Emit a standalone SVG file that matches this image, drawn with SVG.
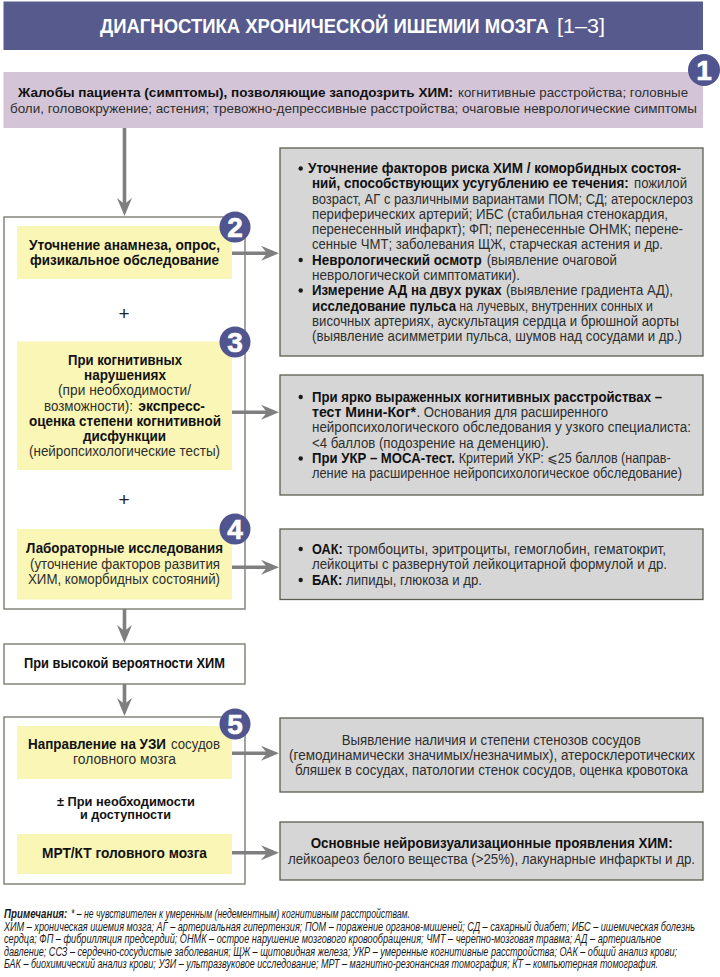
<svg xmlns="http://www.w3.org/2000/svg" width="720" height="977" viewBox="0 0 720 977">
<style>
text{font-family:"Liberation Sans","DejaVu Sans",Arial,sans-serif;font-size:14px;fill:#2e2e2e}
.b{font-weight:700;fill:#111}
.c{text-anchor:middle}
.grey{fill:#d6d6d6;stroke:#5c5c52;stroke-width:1.3}
.yel{fill:#faf6b6}
.frame{fill:#fff;stroke:#7d7d74;stroke-width:1.4}
.badge{fill:#51558f}
.num{font-size:28px;font-weight:700;fill:#fff;stroke:#fff;stroke-width:.6;text-anchor:middle}
.n{font-size:12px;font-style:italic;fill:#1a1a1a}
.nb{font-weight:700}
.conn{fill:none;stroke:#7f7f7f;stroke-width:3.6;marker-end:url(#arr)}
.dot{fill:#1a1a1a}
.s13{font-size:13px}
.s135{font-size:13.5px}
</style>
<defs>
<marker id="arr" markerUnits="userSpaceOnUse" markerWidth="20" markerHeight="18" viewBox="0 -9 20 18" refX="6" refY="0" orient="auto">
<polygon points="0,-7.5 18,0 0,7.5 6,0" fill="#7f7f7f"/>
</marker>
</defs>

<g id="title">
<rect x="3.5" y="1.5" width="699.5" height="48.5" fill="#565a8c"/>
<text transform="translate(100 33) scale(.85 1)" textLength="528" lengthAdjust="spacingAndGlyphs" style="font-size:19.5px;font-weight:700;fill:#fff">ДИАГНОСТИКА ХРОНИЧЕСКОЙ ИШЕМИИ МОЗГА</text>
<text x="557" y="33" textLength="48" lengthAdjust="spacingAndGlyphs" style="font-size:19.5px;fill:#fff">[1–3]</text>
</g>

<g id="node-1">
<rect x="3.5" y="72" width="699.5" height="56" fill="#d3c5d7"/>
<text class="b s135" x="18" y="97" textLength="435" lengthAdjust="spacingAndGlyphs">Жалобы пациента (симптомы), позволяющие заподозрить ХИМ:</text>
<text class="s135" x="458" y="97" textLength="230" lengthAdjust="spacingAndGlyphs">когнитивные расстройства; головные</text>
<text class="s135" x="10" y="113" textLength="687" lengthAdjust="spacingAndGlyphs">боли, головокружение; астения; тревожно-депрессивные расстройства; очаговые неврологические симптомы</text>
<circle class="badge" cx="704" cy="70" r="16"/>
<text class="num" x="704" y="80">1</text>
</g>

<g id="frame-main">
<rect class="frame" x="4" y="217" width="241" height="392"/>
</g>

<g id="node-2">
<rect class="yel" x="17" y="226" width="215" height="53"/>
<text class="b" x="29" y="250" textLength="191" lengthAdjust="spacingAndGlyphs">Уточнение анамнеза, опрос,</text>
<text class="b" x="30" y="265" textLength="189" lengthAdjust="spacingAndGlyphs">физикальное обследование</text>
<circle class="badge" cx="235" cy="227" r="15.5"/>
<text class="num" x="235" y="237">2</text>
</g>

<g id="plus-1"><text x="124" y="319.5" class="c" style="font-size:19px;fill:#222">+</text></g>

<g id="node-3">
<rect class="yel" x="17" y="341.5" width="215" height="128.5"/>
<text class="b" x="68" y="365" textLength="114" lengthAdjust="spacingAndGlyphs">При когнитивных</text>
<text class="b" x="84" y="380" textLength="82" lengthAdjust="spacingAndGlyphs">нарушениях</text>
<text x="58" y="395" textLength="133" lengthAdjust="spacingAndGlyphs">(при необходимости/</text>
<text x="44" y="410.5" textLength="89" lengthAdjust="spacingAndGlyphs">возможности):</text>
<text class="b" x="138.3" y="410.5" textLength="66.7" lengthAdjust="spacingAndGlyphs">экспресс-</text>
<text class="b" x="29" y="426" textLength="192" lengthAdjust="spacingAndGlyphs">оценка степени когнитивной</text>
<text class="b" x="83" y="441" textLength="83" lengthAdjust="spacingAndGlyphs">дисфункции</text>
<text x="29" y="456" textLength="191" lengthAdjust="spacingAndGlyphs">(нейропсихологические тесты)</text>
<circle class="badge" cx="235" cy="342" r="15.5"/>
<text class="num" x="235" y="352">3</text>
</g>

<g id="plus-2"><text x="124" y="505.5" class="c" style="font-size:19px;fill:#222">+</text></g>

<g id="node-4">
<rect class="yel" x="17" y="529" width="215" height="70.5"/>
<text class="b" x="26" y="553" textLength="197" lengthAdjust="spacingAndGlyphs">Лабораторные исследования</text>
<text x="30" y="568.5" textLength="190" lengthAdjust="spacingAndGlyphs">(уточнение факторов развития</text>
<text x="28" y="584" textLength="192" lengthAdjust="spacingAndGlyphs">ХИМ, коморбидных состояний)</text>
<circle class="badge" cx="235" cy="529" r="15.5"/>
<text class="num" x="235" y="539">4</text>
</g>

<g id="node-high">
<rect class="frame" x="4" y="644" width="241" height="40"/>
<text class="b" x="24" y="668" textLength="201" lengthAdjust="spacingAndGlyphs">При высокой вероятности ХИМ</text>
</g>

<g id="frame-5">
<rect class="frame" x="4" y="717" width="241" height="167"/>
</g>

<g id="node-5">
<rect class="yel" x="17" y="726" width="215" height="53"/>
<text class="b" x="28" y="749" textLength="138" lengthAdjust="spacingAndGlyphs">Направление на УЗИ</text>
<text x="171" y="749" textLength="49" lengthAdjust="spacingAndGlyphs">сосудов</text>
<text x="73" y="764" textLength="103" lengthAdjust="spacingAndGlyphs">головного мозга</text>
<circle class="badge" cx="235" cy="724" r="15.5"/>
<text class="num" x="235" y="734">5</text>
</g>

<g id="node-optional">
<text class="b s13" x="57" y="805.5" textLength="138" lengthAdjust="spacingAndGlyphs">± При необходимости</text>
<text class="b s13" x="80" y="819" textLength="91" lengthAdjust="spacingAndGlyphs">и доступности</text>
</g>

<g id="node-mrt">
<rect class="yel" x="17" y="834" width="215" height="40"/>
<text class="b" x="42" y="858" textLength="165" lengthAdjust="spacingAndGlyphs">МРТ/КТ головного мозга</text>
</g>

<g id="box-2">
<rect class="grey" x="280" y="148" width="423" height="208"/>
<circle class="dot" cx="300.7" cy="168.5" r="2.2"/>
<circle class="dot" cx="300.7" cy="260" r="2.2"/>
<circle class="dot" cx="300.7" cy="290.5" r="2.2"/>
<text class="b" x="308" y="173" textLength="373" lengthAdjust="spacingAndGlyphs">Уточнение факторов риска ХИМ / коморбидных состоя-</text>
<text class="b" transform="translate(312 188.3) scale(.9 1)" textLength="352" lengthAdjust="spacingAndGlyphs">ний, способствующих усугублению ее течения:</text>
<text x="634" y="188.3" textLength="53" lengthAdjust="spacingAndGlyphs">пожилой</text>
<text x="312" y="203.5" textLength="381" lengthAdjust="spacingAndGlyphs">возраст, АГ с различными вариантами ПОМ; СД; атеросклероз</text>
<text x="312" y="218.8" textLength="356" lengthAdjust="spacingAndGlyphs">периферических артерий; ИБС (стабильная стенокардия,</text>
<text x="312" y="234" textLength="371" lengthAdjust="spacingAndGlyphs">перенесенный инфаркт); ФП; перенесенные ОНМК; перене-</text>
<text x="312" y="249.3" textLength="351" lengthAdjust="spacingAndGlyphs">сенные ЧМТ; заболевания ЩЖ, старческая астения и др.</text>
<text class="b" x="312" y="264.6" textLength="169.7" lengthAdjust="spacingAndGlyphs">Неврологический осмотр</text>
<text x="486.7" y="264.6" textLength="130.3" lengthAdjust="spacingAndGlyphs">(выявление очаговой</text>
<text x="312" y="279.9" textLength="208" lengthAdjust="spacingAndGlyphs">неврологической симптоматики).</text>
<text class="b" x="312" y="295.2" textLength="189.7" lengthAdjust="spacingAndGlyphs">Измерение АД на двух руках</text>
<text x="506" y="295.2" textLength="167" lengthAdjust="spacingAndGlyphs">(выявление градиента АД),</text>
<text class="b" x="312" y="310.5" textLength="144" lengthAdjust="spacingAndGlyphs">исследование пульса</text>
<text x="459.3" y="310.5" textLength="193.7" lengthAdjust="spacingAndGlyphs">на лучевых, внутренних сонных и</text>
<text x="312" y="325.7" textLength="367" lengthAdjust="spacingAndGlyphs">височных артериях, аускультация сердца и брюшной аорты</text>
<text x="312" y="340.8" textLength="370" lengthAdjust="spacingAndGlyphs">(выявление асимметрии пульса, шумов над сосудами и др.)</text>
</g>

<g id="box-3">
<rect class="grey" x="280" y="375" width="423" height="120"/>
<circle class="dot" cx="300.7" cy="397" r="2.2"/>
<circle class="dot" cx="300.7" cy="458.5" r="2.2"/>
<text class="b" x="312" y="401.7" textLength="350" lengthAdjust="spacingAndGlyphs">При ярко выраженных когнитивных расстройствах –</text>
<text class="b" x="312" y="417" textLength="104" lengthAdjust="spacingAndGlyphs">тест Мини-Ког*</text>
<text x="416.5" y="417" textLength="191.5" lengthAdjust="spacingAndGlyphs">. Основания для расширенного</text>
<text x="312" y="432.3" textLength="379" lengthAdjust="spacingAndGlyphs">нейропсихологического обследования у узкого специалиста:</text>
<text x="312" y="447.6" textLength="237" lengthAdjust="spacingAndGlyphs">&lt;4 баллов (подозрение на деменцию).</text>
<text class="b" x="312" y="463" textLength="143" lengthAdjust="spacingAndGlyphs">При УКР – МОСА-тест.</text>
<text x="458.7" y="463" textLength="212" lengthAdjust="spacingAndGlyphs">Критерий УКР: ⩽25 баллов (направ-</text>
<text x="312" y="478.2" textLength="370" lengthAdjust="spacingAndGlyphs">ление на расширенное нейропсихологическое обследование)</text>
</g>

<g id="box-4">
<rect class="grey" x="280" y="529" width="423" height="70.5"/>
<circle class="dot" cx="300.7" cy="549" r="2.2"/>
<circle class="dot" cx="300.7" cy="580" r="2.2"/>
<text class="b" x="312" y="553.5" textLength="30.7" lengthAdjust="spacingAndGlyphs">ОАК:</text>
<text x="347.3" y="553.5" textLength="318.7" lengthAdjust="spacingAndGlyphs">тромбоциты, эритроциты, гемоглобин, гематокрит,</text>
<text x="312" y="569" textLength="355" lengthAdjust="spacingAndGlyphs">лейкоциты с развернутой лейкоцитарной формулой и др.</text>
<text class="b" x="312" y="584.5" textLength="30.3" lengthAdjust="spacingAndGlyphs">БАК:</text>
<text x="346" y="584.5" textLength="136" lengthAdjust="spacingAndGlyphs">липиды, глюкоза и др.</text>
</g>

<g id="box-5">
<rect class="grey" x="280" y="718" width="423" height="74"/>
<text x="341.7" y="744.5" textLength="299" lengthAdjust="spacingAndGlyphs">Выявление наличия и степени стенозов сосудов</text>
<text x="289" y="760" textLength="406" lengthAdjust="spacingAndGlyphs">(гемодинамически значимых/незначимых), атеросклеротических</text>
<text x="295" y="775" textLength="393" lengthAdjust="spacingAndGlyphs">бляшек в сосудах, патологии стенок сосудов, оценка кровотока</text>
</g>

<g id="box-6">
<rect class="grey" x="280" y="822" width="423" height="58"/>
<text class="b" x="310.7" y="848.3" textLength="362" lengthAdjust="spacingAndGlyphs">Основные нейровизуализационные проявления ХИМ:</text>
<text x="288" y="863.7" textLength="407" lengthAdjust="spacingAndGlyphs">лейкоареоз белого вещества (&gt;25%), лакунарные инфаркты и др.</text>
</g>

<g id="connectors">
<path class="conn" d="M124.5 128V204"/>
<path class="conn" d="M232 253.3H267"/>
<path class="conn" d="M232 412.3H267"/>
<path class="conn" d="M232 567.3H267"/>
<path class="conn" d="M124.5 609V631"/>
<path class="conn" d="M124.5 684V704"/>
<path class="conn" d="M232 753.3H267"/>
<path class="conn" d="M232 852.7H267"/>
</g>

<g id="notes">
<text class="n nb" transform="translate(4 918) scale(.75 1)" textLength="84.5" lengthAdjust="spacingAndGlyphs">Примечания:</text>
<text class="n" transform="translate(71 918) scale(.75 1)" textLength="452" lengthAdjust="spacingAndGlyphs">* – не чувствителен к умеренным (недементным) когнитивным расстройствам.</text>
<text class="n" transform="translate(4 930.7) scale(.75 1)" textLength="921.3" lengthAdjust="spacingAndGlyphs">ХИМ – хроническая ишемия мозга; АГ – артериальная гипертензия; ПОМ – поражение органов-мишеней; СД – сахарный диабет; ИБС – ишемическая болезнь</text>
<text class="n" transform="translate(4 943) scale(.75 1)" textLength="876" lengthAdjust="spacingAndGlyphs">сердца; ФП – фибрилляция предсердий; ОНМК – острое нарушение мозгового кровообращения; ЧМТ – черепно-мозговая травма; АД – артериальное</text>
<text class="n" transform="translate(4 955.7) scale(.75 1)" textLength="897.3" lengthAdjust="spacingAndGlyphs">давление; ССЗ – сердечно-сосудистые заболевания; ЩЖ – щитовидная железа; УКР – умеренные когнитивные расстройства; ОАК – общий анализ крови;</text>
<text class="n" transform="translate(4 968) scale(.75 1)" textLength="872" lengthAdjust="spacingAndGlyphs">БАК – биохимический анализ крови; УЗИ – ультразвуковое исследование; МРТ – магнитно-резонансная томография; КТ – компьютерная томография.</text>
</g>
</svg>
